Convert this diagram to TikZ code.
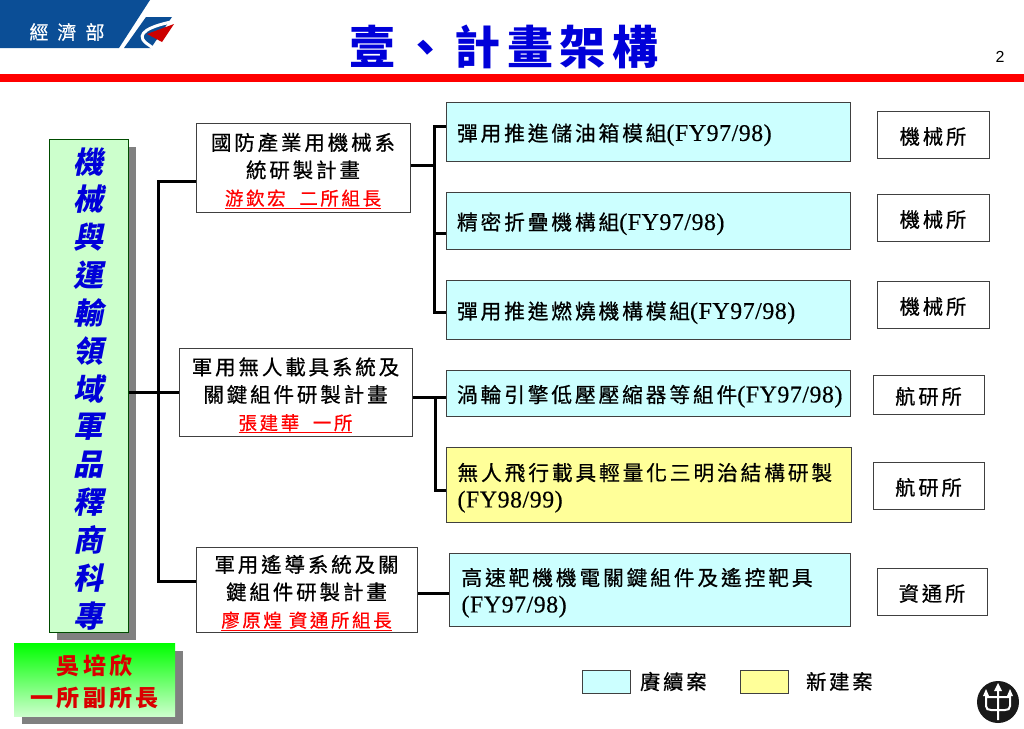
\documentclass[tikz,border=0pt]{standalone}
\usepackage{fontspec}
\setmainfont[FakeBold=0.3,LetterSpace=2]{Liberation Serif}
\newfontfamily\cjk[LetterSpace=14,FakeBold=0.6]{Noto Sans CJK TC}
\newfontfamily\cjkplain[LetterSpace=14]{Noto Sans CJK TC}
\newfontfamily\cjkslant[FakeSlant=0.2]{Noto Sans CJK TC}
\newfontfamily\heading{Liberation Sans}
\definecolor{oldblue}{HTML}{CCFFFF}
\definecolor{newyellow}{HTML}{FFFF99}
\definecolor{leadgreen}{HTML}{CCFFCC}
\definecolor{logoblue}{HTML}{0B4E96}
\tikzset{
	boxshadow/.style={fill=black!50,draw=none},
	lowered/.style={execute at begin node={\rule{0pt}{#1}}},
	project/.style={draw=black!75,fill=white,line width=1pt,align=center,inner sep=0pt,text width=210pt,lowered=24pt,font=\cjk\fontsize{20.5}{27.5}\selectfont},
	item/.style={draw=black!75,fill=oldblue,line width=1pt,align=left,inner sep=0pt,lowered=24pt,font=\fontsize{24}{27}\selectfont},
	institute/.style={draw=black!75,fill=white,line width=1pt,inner sep=0pt,lowered=21pt,font=\cjk\fontsize{20.3}{24}\selectfont},
	link/.style={line width=3pt,black},
	keybox/.style={draw=black!75,line width=1pt,minimum width=48pt,minimum height=23pt,inner sep=0pt},
	keytext/.style={font=\cjk\fontsize{20.3}{24}\selectfont},
}
\newcommand{\leader}[1]{\textcolor{red}{\fontsize{18.5}{24}\selectfont\underline{#1}}}
\newcommand{\itemcn}[1]{{\cjk\fontsize{20.7}{27}\selectfont #1}}
\begin{document}
\begin{tikzpicture}[x=1pt,y=-1pt]
	\useasboundingbox (0,0) rectangle (1024,728);
	% header
	\fill[logoblue] (0,0)--(150,0)--(119,48)--(0,48)--cycle;
	\node[white,font=\cjk\fontsize{19}{20}\selectfont] (ministry) at (67,32) {經\hspace{9pt}濟\hspace{9pt}部};
	\fill[logoblue] (146,17)--(172,17)--(151,48)--(124,48)--cycle;
	\draw[white,line width=3pt] (171,22) .. controls (152,26) and (134,33) .. (146,43)--(153,48);
	\fill[red!80!black] (174,24)--(147,34)--(162,42)--cycle;
	\node[blue!85!black,font=\cjkplain\bfseries\fontsize{46}{50}\selectfont] (title) at (504,47) {壹、計畫架構};
	\node[font=\heading\fontsize{16}{18}\selectfont] (pagenum) at (1000,57) {2};
	\fill[red] (0,74) rectangle (1024,82);
	% shadows
	\fill[boxshadow] (57,147) rectangle (136,640);
	\fill[boxshadow] (22,651) rectangle (183,724);
	% left column
	\node[draw=black!70!green,fill=leadgreen,line width=1pt,minimum width=79pt,minimum height=493pt,inner sep=0pt,align=center,text width=70pt,text=blue!85!black,lowered=32pt,font=\cjkslant\bfseries\fontsize{30}{37.83}\selectfont] (domain) at (88.5,385.5)
		{機\\械\\與\\運\\輸\\領\\域\\軍\\品\\釋\\商\\科\\專};
	\node[top color=green,bottom color=leadgreen,minimum width=161pt,minimum height=73pt,inner sep=0pt,align=center,text width=155pt,text=red!85!black,lowered=25pt,font=\cjkplain\bfseries\fontsize{23}{32}\selectfont] (head) at (94.5,679.5) {吳培欣\\一所副所長};
	% projects
	\node[project,minimum width=214pt,minimum height=89pt] (defense) at (303,167.5)
		{國防產業用機械系\\統研製計畫\\\leader{游欽宏\ \ 二所組長}};
	\node[project,minimum width=233pt,minimum height=88pt] (uav) at (295.5,392)
		{軍用無人載具系統及\\關鍵組件研製計畫\\\leader{張建華\ \ 一所}};
	\node[project,minimum width=221pt,minimum height=85pt] (guided) at (306.5,589.5)
		{軍用遙導系統及關\\鍵組件研製計畫\\\leader{廖原煌 資通所組長}};
	% work items
	\node[item,minimum width=404pt,minimum height=59pt,text width=382pt] (tank) at (648,131.5) {\itemcn{彈用推進儲油箱模組}(FY97/98)};
	\node[item,minimum width=404pt,minimum height=57pt,text width=382pt] (fold) at (648,220.5) {\itemcn{精密折疊機構組}(FY97/98)};
	\node[item,minimum width=404pt,minimum height=59pt,text width=382pt] (burn) at (648,309.5) {\itemcn{彈用推進燃燒機構模組}(FY97/98)};
	\node[item,minimum width=404pt,minimum height=46pt,text width=382pt] (turbine) at (648,393) {\itemcn{渦輪引擎低壓壓縮器等組件}(FY97/98)};
	\node[item,fill=newyellow,minimum width=405pt,minimum height=75pt,text width=382pt] (sandwich) at (648.5,484.5) {\itemcn{無人飛行載具輕量化三明治結構研製}\\(FY98/99)};
	\node[item,minimum width=401pt,minimum height=73pt,text width=376pt] (target) at (649.5,589.5) {\itemcn{高速靶機機電關鍵組件及遙控靶具}\\(FY97/98)};
	% institutes
	\node[institute,minimum width=112pt,minimum height=47pt] (inst1) at (933,134.5) {機械所};
	\node[institute,minimum width=112pt,minimum height=47pt] (inst2) at (933,217.5) {機械所};
	\node[institute,minimum width=112pt,minimum height=47pt] (inst3) at (933,304.5) {機械所};
	\node[institute,minimum width=111pt,minimum height=39pt] (inst4) at (928.5,394.5) {航研所};
	\node[institute,minimum width=111pt,minimum height=47pt] (inst5) at (928.5,485.5) {航研所};
	\node[institute,minimum width=110pt,minimum height=47pt] (inst6) at (932,591.5) {資通所};
	% connectors
	\coordinate (spine) at (158,392);
	\coordinate (busA) at (434,165);
	\coordinate (busB) at (435,397);
	\draw[link] (domain.east|-uav.west) -- (uav.west);
	\draw[link] ([yshift=-13.5pt]defense.west) -| (spine) |- ([yshift=8.5pt]guided.west);
	\draw[link] ([yshift=2.5pt]defense.east) -- (busA);
	\draw[link] ([yshift=5.5pt]tank.west) -| (busA) |- ([yshift=-2.5pt]burn.west);
	\draw[link] ([yshift=-12.5pt]fold.west) -- ++(-12,0);
	\draw[link] ([yshift=-5pt]uav.east) -- ([yshift=-4pt]turbine.west);
	\draw[link] (busB) |- ([yshift=-5.5pt]sandwich.west);
	\draw[link] ([yshift=-3.5pt]guided.east) -- ([yshift=-3.5pt]target.west);
	% legend
	\node[keybox,fill=oldblue] (keyold) at (606,681.5) {};
	\node[keytext,anchor=west] (keyoldtext) at ([xshift=6pt]keyold.east) {賡續案};
	\node[keybox,fill=newyellow] (keynew) at (764,681.5) {};
	\node[keytext,anchor=west] (keynewtext) at ([xshift=14pt]keynew.east) {新建案};
	% emblem
	\fill[black!90] (998,702) circle[radius=21];
	\draw[white,line width=2pt] (998,686)--(998,720) (986,693)--(986,706) .. controls (986,709) and (988,710) .. (991,710)--(1005,710) .. controls (1008,710) and (1010,709) .. (1010,706)--(1010,693) (986,697)--(1010,697);
	\fill[white] (998,683)--(994,691)--(1002,691)--cycle (986,689)--(983,696)--(989,696)--cycle (1010,689)--(1007,696)--(1013,696)--cycle;
\end{tikzpicture}
\end{document}
